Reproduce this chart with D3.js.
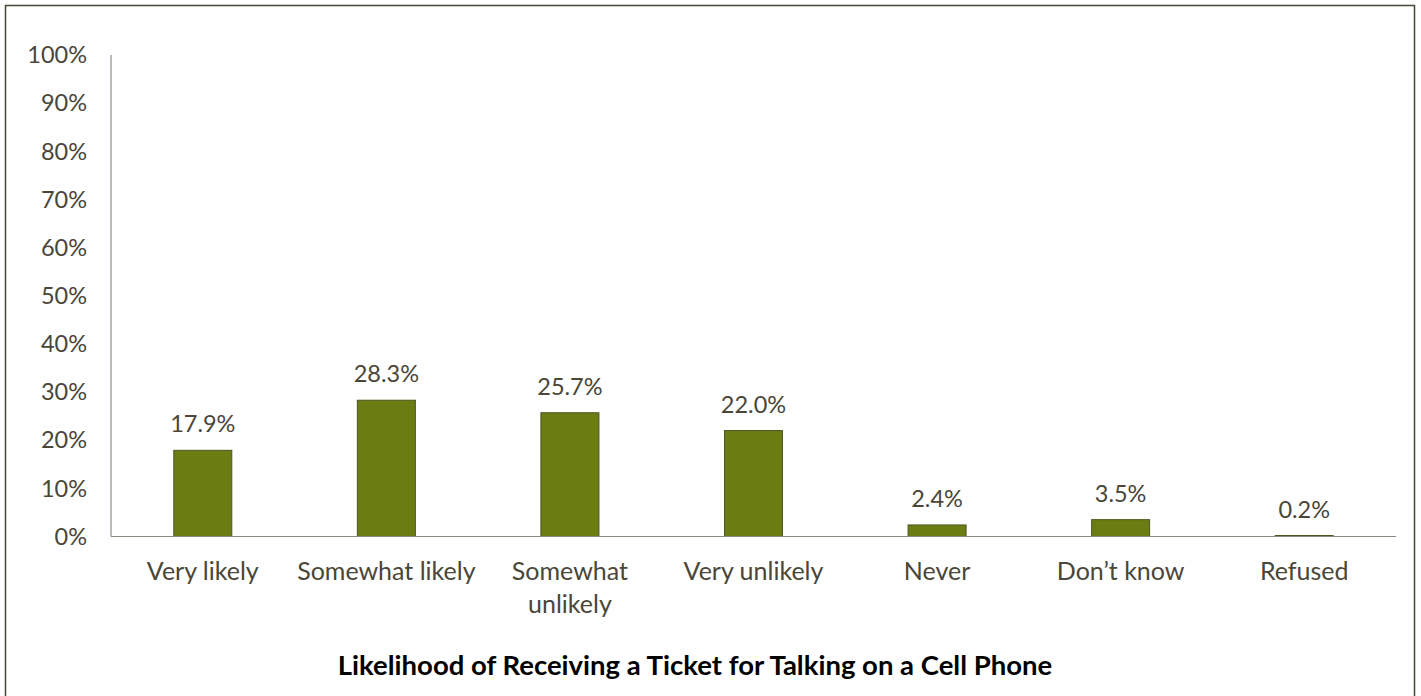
<!DOCTYPE html>
<html>
<head>
<meta charset="utf-8">
<script src="https://cdn.jsdelivr.net/npm/d3@7"></script>
<style>
  html, body { margin: 0; padding: 0; background: #fff; }
  svg { display: block; }
  text { font-family: Lato, "Open Sans", sans-serif; }
</style>
</head>
<body>
<svg id="chart" width="1421" height="696"></svg>
<script>
// Survey responses and their shares (percent)
const categories = ["Very likely", "Somewhat likely", "Somewhat unlikely", "Very unlikely", "Never", "Don\u2019t know", "Refused"];
const categoryLines = [["Very likely"], ["Somewhat likely"], ["Somewhat", "unlikely"], ["Very unlikely"], ["Never"], ["Don\u2019t know"], ["Refused"]];
const values = [17.9, 28.3, 25.7, 22.0, 2.4, 3.5, 0.2];
const yTicks = [0, 10, 20, 30, 40, 50, 60, 70, 80, 90, 100];
const title = "Likelihood of Receiving a Ticket for Talking on a Cell Phone";

const svg = d3.select("#chart");
const textColor = "#4a4638";
const axisColor = "#8c8a80";

// Outer frame
svg.append("rect")
  .attr("x", 5.5).attr("y", 5.5)
  .attr("width", 1409).attr("height", 700)
  .attr("fill", "none").attr("stroke", "#4a4638").attr("stroke-width", 1.5);

const plot = { left: 111, right: 1396, top: 55, bottom: 536.5 };

const x = d3.scaleBand()
  .domain(categories)
  .range([plot.left, plot.right])
  .paddingInner(0.684)
  .paddingOuter(0.342);

const y = d3.scaleLinear()
  .domain([0, 100])
  .range([plot.bottom, plot.top]);

// Y axis line and labels
svg.append("line")
  .attr("x1", plot.left).attr("x2", plot.left)
  .attr("y1", y(100)).attr("y2", y(0))
  .attr("stroke", axisColor).attr("stroke-width", 1.2);

svg.append("g").selectAll("text")
  .data(yTicks)
  .join("text")
  .attr("x", 87)
  .attr("y", d => y(d))
  .attr("dy", "0.35em")
  .attr("text-anchor", "end")
  .attr("font-size", 23.5)
  .attr("fill", textColor)
  .text(d => d + "%");

// Bars
svg.append("g").selectAll("rect")
  .data(values)
  .join("rect")
  .attr("x", (d, i) => x(categories[i]))
  .attr("width", x.bandwidth())
  .attr("y", d => y(d))
  .attr("height", d => y(0) - y(d))
  .attr("fill", "#6b7c12")
  .attr("stroke", "#4e5420")
  .attr("stroke-width", 1);

// Baseline
svg.append("line")
  .attr("x1", plot.left).attr("x2", plot.right)
  .attr("y1", y(0)).attr("y2", y(0))
  .attr("stroke", axisColor).attr("stroke-width", 1.2);

// Value labels
svg.append("g").selectAll("text")
  .data(values)
  .join("text")
  .attr("x", (d, i) => x(categories[i]) + x.bandwidth() / 2)
  .attr("y", d => y(d) - 18)
  .attr("text-anchor", "middle")
  .attr("font-size", 23.5)
  .attr("fill", textColor)
  .text(d => d.toFixed(1) + "%");

// Category labels
const catG = svg.append("g").selectAll("text")
  .data(categoryLines)
  .join("text")
  .attr("x", (d, i) => x(categories[i]) + x.bandwidth() / 2)
  .attr("y", 580)
  .attr("text-anchor", "middle")
  .attr("font-size", 25)
  .attr("fill", textColor);
catG.selectAll("tspan")
  .data(d => d)
  .join("tspan")
  .attr("x", function () { return d3.select(this.parentNode).attr("x"); })
  .attr("dy", (d, i) => i === 0 ? 0 : 33)
  .text(d => d);

// Title
svg.append("text")
  .attr("x", 695)
  .attr("y", 675)
  .attr("text-anchor", "middle")
  .attr("font-size", 27.5)
  .attr("font-weight", "bold")
  .attr("fill", "#000")
  .text(title);
</script>
</body>
</html>
